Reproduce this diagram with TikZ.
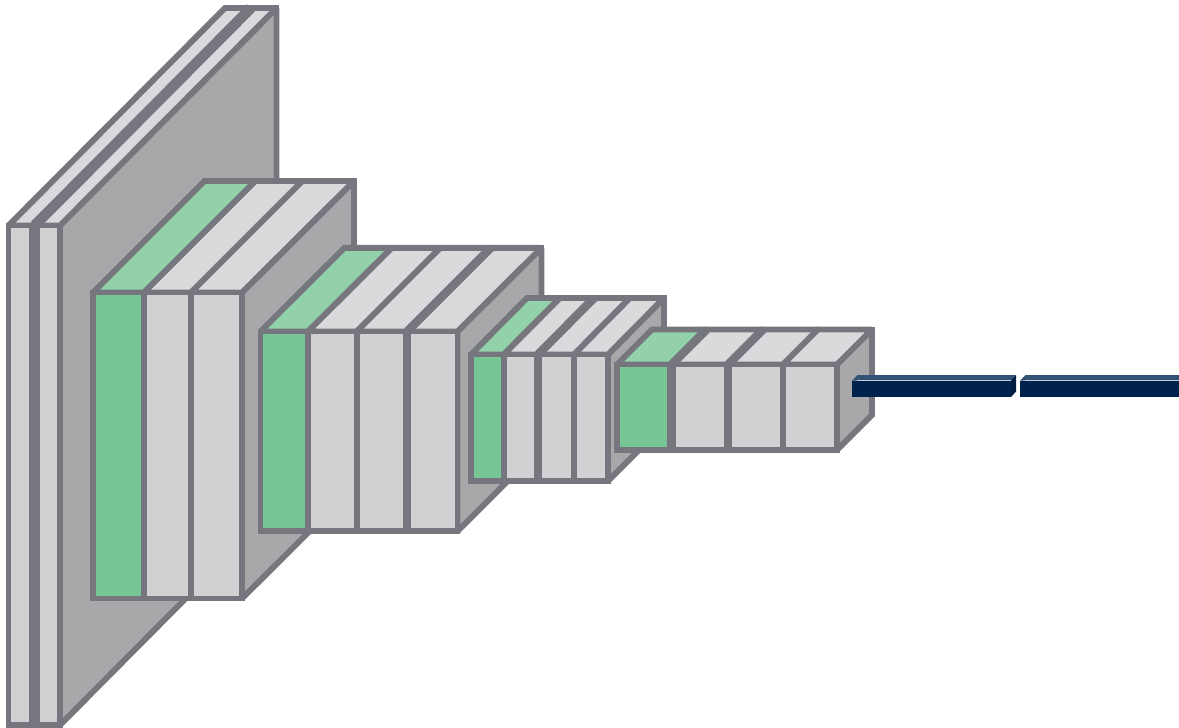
\documentclass[tikz,border=0pt]{standalone}
\usepackage{xcolor}
\usepackage{tikz}
\definecolor{edgegray}{HTML}{76767E}
\definecolor{sidegray}{HTML}{A8A8AB}
\definecolor{frontgray}{HTML}{D1D1D4}
\definecolor{topgray}{HTML}{DADADD}
\definecolor{frontgreen}{HTML}{78C695}
\definecolor{topgreen}{HTML}{92D1AA}
\definecolor{densefront}{HTML}{00234D}
\definecolor{densetop}{HTML}{345275}
\definecolor{denseside}{HTML}{001D3F}

\begin{document}
\begin{tikzpicture}[
  x=0.02cm, y=-0.02cm,
  side/.style={draw=edgegray, fill=sidegray, line width=0.118cm, miter limit=2},
  topface/.style={draw=edgegray, fill=topgray, line width=0.118cm, miter limit=2},
  topgreen/.style={draw=edgegray, fill=topgreen, line width=0.118cm, miter limit=2},
  front/.style={draw=edgegray, fill=frontgray, line width=0.118cm, miter limit=2},
  frontg/.style={draw=edgegray, fill=frontgreen, line width=0.118cm, miter limit=2},
  rim/.style={draw=edgegray, line width=0.118cm},
  heavy/.style={draw=edgegray, line width=0.21cm},
  medium/.style={draw=edgegray, line width=0.17cm}
]
  \useasboundingbox (0,0) rectangle (1179,727);

  % input volume
  \filldraw[side] (60,225.5) -- (276.5,8) -- (276.5,507) -- (60,725) -- cycle;
  \filldraw[topface] (8.5,225.5) -- (225,8) -- (276.5,8) -- (60,225.5) -- cycle;
  \filldraw[front] (8.5,225.5) rectangle (60,725);
  \draw[heavy] (34.6,225.5) -- (34.6,725);
  \draw[heavy] (34.6,225.5) -- (251,8);
  \draw[rim] (225,8) -- (276.5,8) -- (276.5,200);

  % second volume
  \filldraw[side] (242,292.5) -- (354,181) -- (354,487) -- (242,598.5) -- cycle;
  \filldraw[topgreen] (93,292.5) -- (204.5,181) -- (255.5,181) -- (144,292.5) -- cycle;
  \filldraw[topface] (144,292.5) -- (255.5,181) -- (302.5,181) -- (191,292.5) -- cycle;
  \filldraw[topface] (191,292.5) -- (302.5,181) -- (354,181) -- (242,292.5) -- cycle;
  \filldraw[frontg] (93,292.5) rectangle (144,598.5);
  \filldraw[front] (144,292.5) rectangle (191,598.5);
  \filldraw[front] (191,292.5) rectangle (242,598.5);
  \draw[rim] (204.5,181) -- (354,181) -- (354,260);

  % third volume
  \filldraw[side] (457.5,331.5) -- (541.5,247.7) -- (541.5,447) -- (457.5,531.3) -- cycle;
  \filldraw[topgreen] (260.5,331.5) -- (344.5,247.7) -- (392,247.7) -- (308,331.5) -- cycle;
  \filldraw[topface] (308,331.5) -- (392,247.7) -- (440.5,247.7) -- (356.7,331.5) -- cycle;
  \filldraw[topface] (356.7,331.5) -- (440.5,247.7) -- (491,247.7) -- (407,331.5) -- cycle;
  \filldraw[topface] (407,331.5) -- (491,247.7) -- (541.5,247.7) -- (457.5,331.5) -- cycle;
  \filldraw[frontg] (260.5,331.5) rectangle (308,531.3);
  \filldraw[front] (308,331.5) rectangle (356.7,531.3);
  \filldraw[front] (356.7,331.5) rectangle (407,531.3);
  \filldraw[front] (407,331.5) rectangle (457.5,531.3);
  \draw[medium] (407,331.5) -- (407,531.3);
  \draw[medium] (407,331.5) -- (491,247.7);
  \draw[rim] (344.5,247.7) -- (541.5,247.7) -- (541.5,310);

  % fourth volume
  \filldraw[side] (608,354.5) -- (664,298) -- (664,425) -- (608,481) -- cycle;
  \filldraw[topgreen] (471,354.5) -- (527,298) -- (560,298) -- (503.7,354.5) -- cycle;
  \filldraw[topface] (503.7,354.5) -- (560,298) -- (594,298) -- (538,354.5) -- cycle;
  \filldraw[topface] (538,354.5) -- (594,298) -- (630,298) -- (574,354.5) -- cycle;
  \filldraw[topface] (574,354.5) -- (630,298) -- (664,298) -- (608,354.5) -- cycle;
  \filldraw[frontg] (471,354.5) rectangle (503.7,481);
  \filldraw[front] (503.7,354.5) rectangle (538,481);
  \filldraw[front] (538,354.5) rectangle (574,481);
  \filldraw[front] (574,354.5) rectangle (608,481);
  \draw[medium] (538,354.5) -- (538,481);
  \draw[medium] (538,354.5) -- (594,298);
  \draw[rim] (527,298) -- (664,298) -- (664,335);

  % fifth volume
  \filldraw[side] (837,364.5) -- (872,329.5) -- (872,415) -- (837,450) -- cycle;
  \filldraw[topgreen] (617,364.5) -- (652,329.5) -- (706.5,329.5) -- (671.5,364.5) -- cycle;
  \filldraw[topface] (671.5,364.5) -- (706.5,329.5) -- (763,329.5) -- (728,364.5) -- cycle;
  \filldraw[topface] (728,364.5) -- (763,329.5) -- (818,329.5) -- (783,364.5) -- cycle;
  \filldraw[topface] (783,364.5) -- (818,329.5) -- (872,329.5) -- (837,364.5) -- cycle;
  \filldraw[frontg] (617,364.5) rectangle (671.5,450);
  \filldraw[front] (671.5,364.5) rectangle (728,450);
  \filldraw[front] (728,364.5) rectangle (783,450);
  \filldraw[front] (783,364.5) rectangle (837,450);
  \draw[medium] (671.5,364.5) -- (671.5,450);
  \draw[medium] (671.5,364.5) -- (706.5,329.5);
  \draw[medium] (728,364.5) -- (728,450);
  \draw[medium] (728,364.5) -- (763,329.5);
  \draw[rim] (652,329.5) -- (872,329.5) -- (872,415);

  % dense bars
  \fill[densetop] (852,380.7) -- (857.5,375) -- (1016,375) -- (1011,380.7) -- cycle;
  \fill[denseside] (1011,380.7) -- (1016,375) -- (1016,391.5) -- (1011,397) -- cycle;
  \fill[densefront] (852,380.7) rectangle (1011,397);
  \draw[white!70!densetop, line width=0.015cm] (857,380.7) -- (1011,380.7);
  \fill[densetop] (1020,380.7) -- (1025.5,375) -- (1179,375) -- (1179,380.7) -- cycle;
  \fill[densefront] (1020,380.7) rectangle (1179,397);
  \draw[white!70!densetop, line width=0.015cm] (1025,380.7) -- (1179,380.7);
\end{tikzpicture}
\end{document}
